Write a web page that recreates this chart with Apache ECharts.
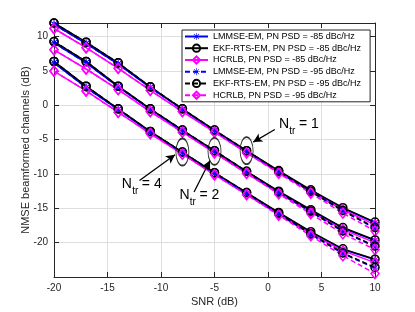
<!DOCTYPE html>
<html>
<head>
<meta charset="utf-8">
<script src="https://cdn.jsdelivr.net/npm/echarts@6/dist/echarts.min.js"></script>
<style>
html,body{margin:0;padding:0;background:#fff;}
#c{width:415px;height:312px;}
</style>
</head>
<body>
<div id="c"></div>
<script>
// ---- data ----
const snr = [-20, -17, -14, -11, -8, -5, -2, 1, 4, 7, 10];
const xTicks = [-20, -15, -10, -5, 0, 5, 10];
const yTicks = [-20, -15, -10, -5, 0, 5, 10];

const legendNames = [
  'LMMSE-EM, PN PSD = -85 dBc/Hz',
  'EKF-RTS-EM, PN PSD = -85 dBc/Hz',
  'HCRLB, PN PSD = -85 dBc/Hz',
  'LMMSE-EM, PN PSD = -95 dBc/Hz',
  'EKF-RTS-EM, PN PSD = -95 dBc/Hz',
  'HCRLB, PN PSD = -95 dBc/Hz'
];

// N_tr = 1
const lm85_n1  = [11.8, 9.0, 6.0, 2.6, -0.6, -3.7, -6.7, -9.6, -12.4, -15.0, -17.1];
const ekf85_n1 = [12.0, 9.2, 6.2, 2.7, -0.5, -3.6, -6.6, -9.5, -12.3, -14.9, -17.0];
const hc85_n1  = [11.2, 8.4, 5.4, 2.2, -0.9, -3.9, -6.9, -9.8, -12.6, -15.2, -17.4];
const lm95_n1  = [11.8, 9.0, 6.0, 2.6, -0.6, -3.7, -6.7, -9.7, -12.6, -15.4, -17.9];
const ekf95_n1 = [12.0, 9.2, 6.2, 2.7, -0.5, -3.6, -6.6, -9.6, -12.5, -15.3, -17.8];
const hc95_n1  = [11.2, 8.4, 5.4, 2.2, -0.9, -3.9, -6.9, -9.9, -12.8, -15.7, -18.3];
// N_tr = 2
const lm85_n2  = [9.1, 6.2, 2.7, -0.6, -3.7, -6.7, -9.7, -12.6, -15.3, -17.9, -19.7];
const ekf85_n2 = [9.3, 6.4, 2.8, -0.5, -3.6, -6.6, -9.6, -12.5, -15.2, -17.8, -19.6];
const hc85_n2  = [8.1, 5.3, 2.3, -0.9, -3.9, -6.9, -9.9, -12.8, -15.5, -18.1, -20.0];
const lm95_n2  = [9.1, 6.2, 2.7, -0.6, -3.7, -6.7, -9.7, -12.7, -15.5, -18.4, -20.6];
const ekf95_n2 = [9.3, 6.4, 2.8, -0.5, -3.6, -6.6, -9.6, -12.6, -15.4, -18.3, -20.5];
const hc95_n2  = [8.1, 5.3, 2.3, -0.9, -3.9, -6.9, -9.9, -12.9, -15.8, -18.7, -21.0];
// N_tr = 4
const lm85_n4  = [6.2, 2.6, -0.6, -3.9, -6.9, -9.9, -12.8, -15.7, -18.5, -21.0, -22.5];
const ekf85_n4 = [6.4, 2.8, -0.5, -3.8, -6.8, -9.8, -12.7, -15.6, -18.4, -20.9, -22.4];
const hc85_n4  = [5.0, 2.1, -1.0, -4.1, -7.1, -10.1, -13.0, -15.9, -18.7, -21.2, -22.9];
const lm95_n4  = [6.2, 2.6, -0.6, -3.9, -6.9, -9.9, -12.8, -15.8, -18.8, -21.6, -23.7];
const ekf95_n4 = [6.4, 2.8, -0.5, -3.8, -6.8, -9.8, -12.7, -15.7, -18.7, -21.5, -23.6];
const hc95_n4  = [5.0, 2.1, -1.0, -4.1, -7.1, -10.1, -13.0, -16.0, -19.0, -21.9, -24.5];

// annotations (data coordinates)
const ellipses = [[-8, -6.8], [-5, -6.7], [-2, -6.6]];
const arrows = [
  [[0.64, -3.52], [-1.38, -5.35]],
  [[-6.91, -12.63], [-5.42, -8.03]],
  [[-12.01, -10.94], [-8.69, -7.20]]
];
const labels = [
  {pos: [1.02, -3.71], n: '1'},
  {pos: [-8.28, -14.08], n: '2'},
  {pos: [-13.66, -12.48], n: '4'}
];

// ---- styling ----
const FONT = '"Liberation Sans", Arial, Helvetica, sans-serif';
const TXT = '#262626';
const asterisk = 'path://M11 0L13 0L13 24L11 24Z M0 11L24 11L24 13L0 13Z M4.2 2.8L21.2 19.8L19.8 21.2L2.8 4.2Z M19.8 2.8L21.2 4.2L4.2 21.2L2.8 19.8Z';

const kinds = [
  {color: '#0000ff', symbol: asterisk, size: 8, fill: '#0000ff', bw: 0},
  {color: '#000000', symbol: 'circle', size: 8, fill: 'rgba(0,0,0,0)', bw: 1.5},
  {color: '#ff00ff', symbol: 'diamond', size: [8, 10], fill: 'rgba(0,0,0,0)', bw: 1.5}
];

function mk(nameIdx, kindIdx, dashed, vals) {
  const k = kinds[kindIdx];
  return {
    type: 'line',
    name: legendNames[nameIdx],
    data: snr.map((x, i) => [x, vals[i]]),
    symbol: k.symbol,
    symbolSize: k.size,
    showAllSymbol: true,
    color: k.color,
    lineStyle: {color: k.color, width: 1.5, type: dashed ? [5, 3] : 'solid'},
    itemStyle: {color: k.fill, borderColor: k.color, borderWidth: k.bw},
    emphasis: {disabled: true},
    animation: false,
    clip: true
  };
}

const groups = [
  [lm85_n1, ekf85_n1, hc85_n1, lm95_n1, ekf95_n1, hc95_n1],
  [lm85_n2, ekf85_n2, hc85_n2, lm95_n2, ekf95_n2, hc95_n2],
  [lm85_n4, ekf85_n4, hc85_n4, lm95_n4, ekf95_n4, hc95_n4]
];
const series = [];
groups.forEach(g => {
  g.forEach((vals, j) => {
    series.push(mk(j, j % 3, j >= 3, vals));
  });
});

series.push({
  type: 'scatter',
  name: 'ann',
  data: ellipses,
  symbol: 'circle',
  symbolSize: [13, 27],
  itemStyle: {color: 'rgba(0,0,0,0)', borderColor: '#000', borderWidth: 1.3},
  z: 5,
  silent: true,
  animation: false,
  markLine: {
    silent: true,
    animation: false,
    symbol: ['none', 'arrow'],
    symbolSize: [7, 9],
    label: {show: false},
    lineStyle: {color: '#000', width: 1.3, type: 'solid'},
    data: arrows.map(a => [{coord: a[0]}, {coord: a[1]}])
  }
});

const axisCommon = {
  type: 'value',
  axisLine: {show: true, onZero: false, lineStyle: {color: TXT, width: 1}},
  axisTick: {show: true, inside: true, length: 5, lineStyle: {color: TXT, width: 1}},
  splitLine: {show: false},
  axisLabel: {show: false}
};

const chart = echarts.init(document.getElementById('c'), null, {renderer: 'canvas'});
const option = {
  backgroundColor: '#fff',
  animation: false,
  textStyle: {fontFamily: FONT},
  grid: {left: 54, right: 40, top: 23, bottom: 35},
  xAxis: [
    Object.assign({}, axisCommon, {
      min: -20, max: 10, interval: 5, position: 'bottom',
      splitLine: {show: true, lineStyle: {color: '#dedede', width: 1}},
      axisLabel: {show: true, color: TXT, fontSize: 10, fontFamily: FONT, margin: 6,
        formatter: v => xTicks.includes(v) ? String(v) : ''},
      name: 'SNR (dB)', nameLocation: 'middle', nameGap: 19,
      nameMoveOverlap: false,
      nameTextStyle: {color: TXT, fontSize: 11, fontFamily: FONT}
    }),
    Object.assign({}, axisCommon, {min: -20, max: 10, interval: 5, position: 'top'})
  ],
  yAxis: [
    Object.assign({}, axisCommon, {
      min: -25, max: 12, interval: 5, position: 'left',
      splitLine: {show: true, lineStyle: {color: '#dedede', width: 1}},
      axisLabel: {show: true, color: TXT, fontSize: 10, fontFamily: FONT, margin: 6,
        formatter: v => yTicks.includes(v) ? String(v) : ''},
      name: 'NMSE beamformed channels (dB)', nameLocation: 'middle', nameGap: 23,
      nameMoveOverlap: false,
      nameTextStyle: {color: TXT, fontSize: 11, fontFamily: FONT}
    }),
    Object.assign({}, axisCommon, {min: -25, max: 12, interval: 5, position: 'right'})
  ],
  legend: {
    data: legendNames,
    orient: 'vertical',
    left: 182, top: 30,
    backgroundColor: '#fff',
    borderColor: TXT, borderWidth: 1,
    padding: [2, 9, 2, 2],
    itemWidth: 23, itemHeight: 9, itemGap: 2.6,
    textStyle: {color: '#000', fontSize: 9, fontFamily: FONT},
    selectedMode: false
  },
  series: series
};
chart.setOption(option);

// label texts with subscripts, placed from data coords
const gfx = [];
labels.forEach(l => {
  const p = chart.convertToPixel({xAxisIndex: 0, yAxisIndex: 0}, l.pos);
  gfx.push({type: 'text', x: p[0], y: p[1], style: {text: 'N', font: '14px ' + FONT, fill: '#000', textVerticalAlign: 'bottom', textAlign: 'left'}, z: 10});
  gfx.push({type: 'text', x: p[0] + 10.3, y: p[1] + 5.4, style: {text: 'tr', font: '10px ' + FONT, fill: '#000', textVerticalAlign: 'bottom', textAlign: 'left'}, z: 10});
  gfx.push({type: 'text', x: p[0] + 20, y: p[1], style: {text: '= ' + l.n, font: '14px ' + FONT, fill: '#000', textVerticalAlign: 'bottom', textAlign: 'left'}, z: 10});
});
chart.setOption({graphic: gfx});
</script>
</body>
</html>
